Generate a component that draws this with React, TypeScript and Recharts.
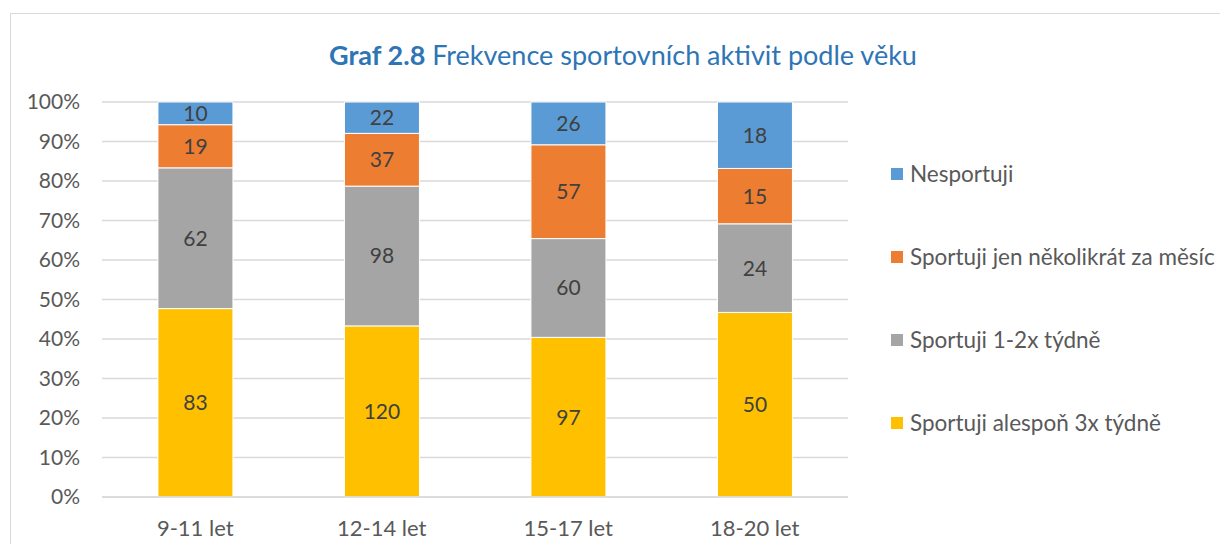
import { Bar, BarChart, CartesianGrid, LabelList, Legend, XAxis, YAxis } from "recharts";

const KATEGORIE = ["9-11 let", "12-14 let", "15-17 let", "18-20 let"];
const ALESPON_3X = [83, 120, 97, 50];
const TYDNE_1_2X = [62, 98, 60, 24];
const NEKOLIKRAT = [19, 37, 57, 15];
const NESPORTUJI = [10, 22, 26, 18];
const Y_TICKS = [0, 0.1, 0.2, 0.3, 0.4, 0.5, 0.6, 0.7, 0.8, 0.9, 1];

const SERIE = [
  { key: "alespon", name: "Sportuji alespoň 3x týdně", color: "#FFC000" },
  { key: "tydne", name: "Sportuji 1-2x týdně", color: "#A5A5A5" },
  { key: "mesic", name: "Sportuji jen několikrát za měsíc", color: "#ED7D31" },
  { key: "ne", name: "Nesportuji", color: "#5B9BD5" },
];

const data = KATEGORIE.map((vek, i) => ({
  vek,
  alespon: ALESPON_3X[i],
  tydne: TYDNE_1_2X[i],
  mesic: NEKOLIKRAT[i],
  ne: NESPORTUJI[i],
}));

const FONT = "Lato, 'Open Sans', sans-serif";

// legenda odshora: Nesportuji ... alespoň 3x (obráceně než stack)
function Legenda() {
  return (
    <div style={{ fontFamily: FONT }}>
      {[...SERIE].reverse().map((s) => (
        <div key={s.key} style={{ display: "flex", alignItems: "center", height: 83, fontSize: 22.5, color: "#595959" }}>
          <span style={{ width: 12, height: 12, background: s.color, marginRight: 7, display: "inline-block" }} />
          {s.name}
        </div>
      ))}
    </div>
  );
}

export default function App() {
  return (
    <div style={{ position: "relative", width: 1228, height: 552, margin: -8, overflow: "hidden", background: "#fff" }}>
      <div
        style={{
          position: "absolute",
          left: 10,
          top: 13,
          width: 1240,
          height: 560,
          border: "1px solid #D9D9D9",
        }}
      />
      <div
        style={{
          position: "absolute",
          left: 0,
          width: 1246,
          top: 38,
          textAlign: "center",
          fontFamily: FONT,
          fontSize: 27,
          color: "#2E75B6",
        }}
      >
        <b>Graf 2.8</b> Frekvence sportovních aktivit podle věku
      </div>
      <BarChart
        width={1228}
        height={552}
        data={data}
        stackOffset="expand"
        barCategoryGap="30%"
        margin={{ top: 102, right: 43, bottom: 25, left: 0 }}
        style={{ position: "absolute", left: 0, top: 0 }}
      >
        <CartesianGrid vertical={false} stroke="#D9D9D9" strokeWidth={1.5} />
        <XAxis
          dataKey="vek"
          height={30}
          axisLine={{ stroke: "#D9D9D9", strokeWidth: 1.5 }}
          tickLine={false}
          tickMargin={17}
          tick={{ fontSize: 22, fill: "#595959", fontFamily: FONT }}
        />
        <YAxis
          width={102}
          ticks={Y_TICKS}
          domain={[0, 1]}
          interval={0}
          axisLine={false}
          tickLine={false}
          tickMargin={16}
          tickFormatter={(v) => `${Math.round(v * 100)}%`}
          tick={{ fontSize: 21, fill: "#595959", fontFamily: FONT }}
        />
        <Legend
          layout="vertical"
          align="right"
          verticalAlign="top"
          content={<Legenda />}
          wrapperStyle={{ left: 891, top: 132, width: 337 }}
        />
        {SERIE.map((s) => (
          <Bar key={s.key} dataKey={s.key} name={s.name} stackId="a" fill={s.color} stroke="#fff" strokeWidth={1} isAnimationActive={false}>
            <LabelList dataKey={s.key} position="center" fill="#404040" fontSize={21} fontFamily={FONT} />
          </Bar>
        ))}
      </BarChart>
    </div>
  );
}
